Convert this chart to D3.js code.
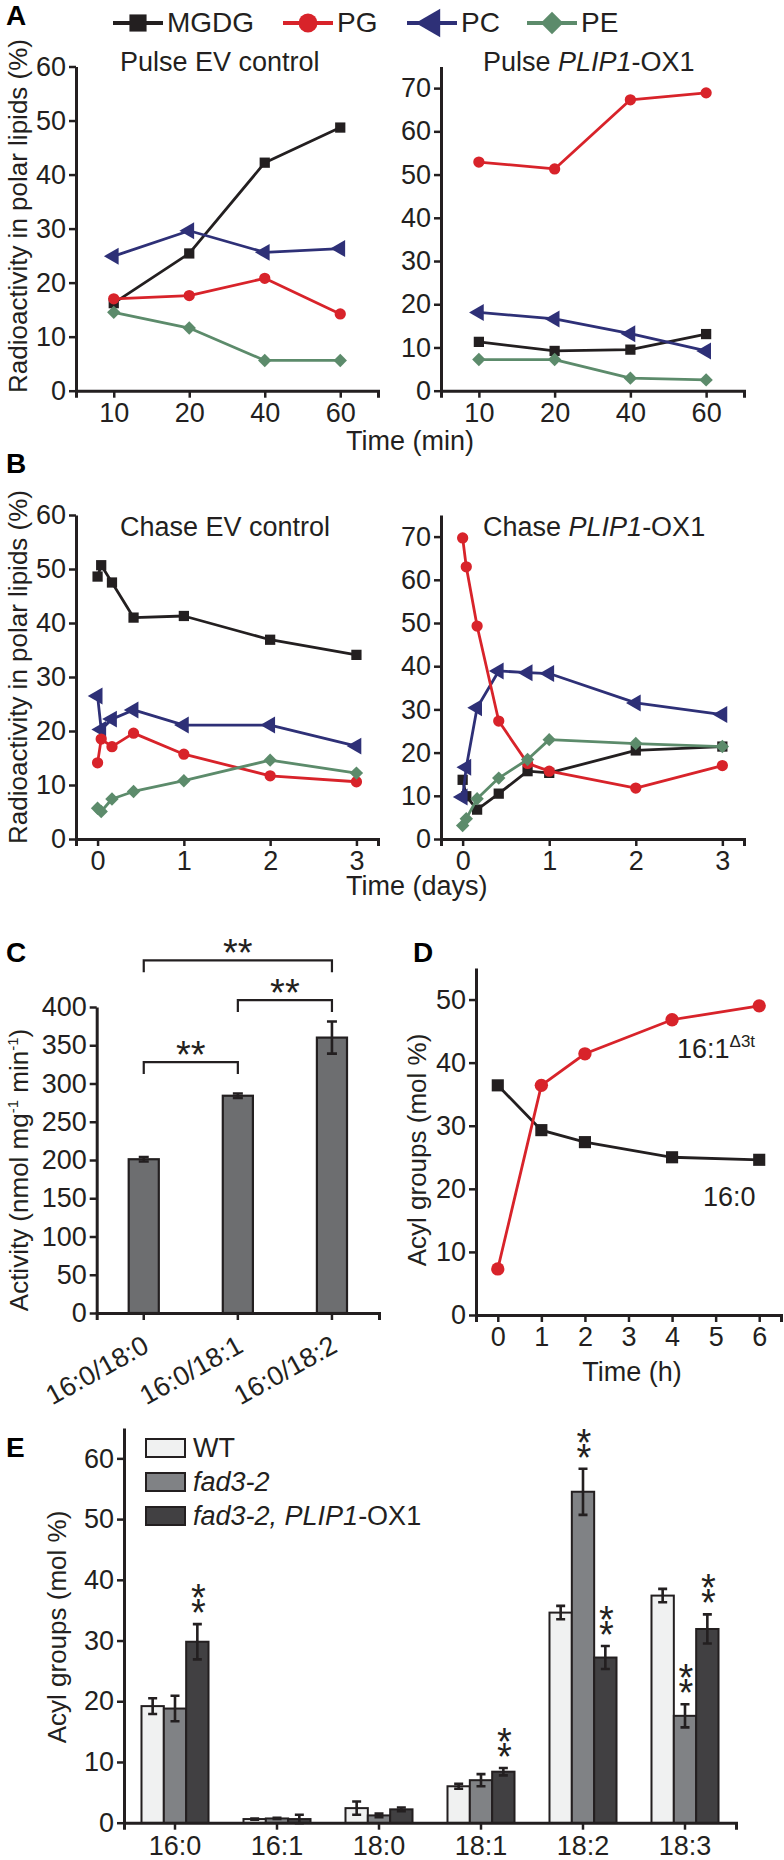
<!DOCTYPE html>
<html>
<head>
<meta charset="utf-8">
<script src="https://cdn.jsdelivr.net/npm/d3@7"></script>
<style>
  body { margin: 0; background: #fff; }
  svg { display: block; font-family: "Liberation Sans", Arial, sans-serif; }
  .axis text { font-family: "Liberation Sans", Arial, sans-serif; font-size: 27px; fill: #231f20; }
  .axis .domain { stroke: #231f20; stroke-width: 3px; }
  .axis .tick line { stroke: #231f20; stroke-width: 2.5px; }
  .lbl { font-size: 27px; fill: #231f20; }
  .ylbl { font-size: 26px; fill: #231f20; }
  .panel { font-size: 28px; font-weight: bold; fill: #000; }
</style>
</head>
<body>
<div id="fig"></div>
<script>
// ---- A / B: radioactivity in polar lipids ----
const lipids = ["MGDG", "PG", "PC", "PE"];
const lipidColors = ["#231f20", "#d8232a", "#2e3077", "#5c8b6b"];

const pulseTimes = ["10", "20", "40", "60"];
const pulseEvMGDG = [16.2, 25.4, 42.2, 48.7];
const pulseEvPG = [17.0, 17.6, 20.8, 14.2];
const pulseEvPC = [24.9, 29.6, 25.6, 26.3];
const pulseEvPE = [14.5, 11.6, 5.6, 5.6];

const pulseOxMGDG = [11.3, 9.2, 9.5, 13.1];
const pulseOxPG = [52.9, 51.3, 67.3, 68.9];
const pulseOxPC = [18.1, 16.6, 13.2, 9.2];
const pulseOxPE = [7.2, 7.2, 2.9, 2.5];

const chaseEvDays = [0, 0.042, 0.167, 0.417, 1, 2, 3];
const chaseEvMGDG = [48.6, 50.7, 47.5, 41.0, 41.3, 36.9, 34.1];
const chaseEvPG = [14.1, 18.5, 17.1, 19.6, 15.7, 11.7, 10.6];
const chaseEvPC = [26.5, 20.3, 22.2, 23.9, 21.1, 21.1, 17.2];
const chaseEvPE = [5.7, 5.1, 7.4, 8.8, 10.8, 14.6, 12.2];

const chaseOxDays = [0, 0.042, 0.167, 0.417, 0.75, 1, 2, 3];
const chaseOxMGDG = [13.7, 9.9, 6.8, 10.5, 15.7, 15.3, 20.5, 21.4];
const chaseOxPG = [69.7, 63.0, 49.3, 27.3, 17.5, 15.7, 11.8, 17.0];
const chaseOxPC = [9.7, 16.6, 30.4, 38.9, 38.5, 38.3, 31.5, 28.8];
const chaseOxPE = [3.1, 4.7, 9.3, 14.1, 18.4, 23.0, 22.1, 21.4];

// ---- C: activity ----
const substrates = ["16:0/18:0", "16:0/18:1", "16:0/18:2"];
const activity = [201, 284, 360];
const activityErr = [3, 3, 21];
const activityBrackets = [[0, 2, 461], [1, 2, 409], [0, 1, 328]]; // from, to, level

// ---- D: time course ----
const hours = [0, 1, 2, 4, 6];
const acyl160 = [36.4, 29.3, 27.4, 25.0, 24.6];
const acyl161t = [7.3, 36.4, 41.4, 46.8, 49.0];

// ---- E: acyl groups ----
const acylGroups = ["16:0", "16:1", "18:0", "18:1", "18:2", "18:3"];
const genotypes = ["WT", "fad3-2", "fad3-2, PLIP1-OX1"];
const genoColors = ["#f0f1f1", "#808285", "#414042"];
const wtMol = [19.2, 0.6, 2.4, 6.0, 34.6, 37.4];
const wtErr = [1.3, 0.1, 1.1, 0.4, 1.1, 1.1];
const fadMol = [18.8, 0.7, 1.2, 7.0, 54.5, 17.6];
const fadErr = [2.1, 0.1, 0.3, 1.0, 3.8, 1.9];
const oxMol = [29.8, 0.6, 2.2, 8.4, 27.2, 31.9];
const oxErr = [2.9, 0.7, 0.3, 0.6, 1.9, 2.4];
const sigMarks = [[0, 2], [3, 2], [4, 1], [4, 2], [5, 1], [5, 2]];

const ink = "#231f20";
const svg = d3.select("#fig").append("svg")
    .attr("width", 784)
    .attr("height", 1860);

svg.append("rect").attr("width", 784).attr("height", 1860).attr("fill", "#fff");

function yAxis(x, scale, ticks) {
    return svg.append("g").attr("class", "axis")
        .attr("transform", `translate(${x},0)`)
        .call(d3.axisLeft(scale).tickValues(ticks).tickSize(7).tickSizeOuter(0).tickPadding(3));
}

function xAxis(y, scale, ticks) {
    const ax = d3.axisBottom(scale).tickSize(7).tickSizeOuter(7).tickPadding(5);
    if (ticks) ax.tickValues(ticks).tickFormat(d3.format("d"));
    return svg.append("g").attr("class", "axis")
        .attr("transform", `translate(0,${y})`)
        .call(ax);
}

// marker shapes per lipid
const shapes = {
    MGDG: { type: d3.symbolSquare, rot: 0, size: 105 },
    PG: { type: d3.symbolCircle, rot: 0, size: 100 },
    PC: { type: d3.symbolTriangle, rot: -90, size: 125 },
    PE: { type: d3.symbolSquare, rot: 45, size: 90 }
};

function drawMarkers(g, pts, shape, color, scale) {
    const sym = d3.symbol().type(shape.type).size(shape.size * (scale || 1));
    g.selectAll(null).data(pts).join("path")
        .attr("d", sym)
        .attr("transform", d => `translate(${d[0]},${d[1]}) rotate(${shape.rot})`)
        .attr("fill", color);
}

function linePanel(x, y, xVals, seriesVals, yTicks, xTicks) {
    yAxis(x.range()[0], y, yTicks);
    xAxis(y.range()[0], x, xTicks);
    const g = svg.append("g");
    // draw order: MGDG, PC, PG, PE
    [0, 2, 1, 3].forEach(k => {
        const pts = xVals.map((t, i) => [x(t), y(seriesVals[k][i])]);
        g.append("path")
            .attr("d", d3.line()(pts))
            .attr("fill", "none")
            .attr("stroke", lipidColors[k])
            .attr("stroke-width", 2.8)
            .attr("stroke-linejoin", "round");
        drawMarkers(g, pts, shapes[lipids[k]], lipidColors[k]);
    });
}

function title(x, y, before, italic, after) {
    const t = svg.append("text").attr("class", "lbl").attr("x", x).attr("y", y);
    t.append("tspan").text(before);
    if (italic) t.append("tspan").attr("font-style", "italic").text(italic);
    if (after) t.append("tspan").text(after);
    return t;
}

function yLabel(x, yc, txt) {
    return svg.append("text").attr("class", "ylbl")
        .attr("text-anchor", "middle")
        .attr("transform", `translate(${x},${yc}) rotate(-90)`)
        .text(txt);
}

function panelLetter(x, y, s) {
    svg.append("text").attr("class", "panel").attr("x", x).attr("y", y).text(s);
}

// ---------- legend ----------
const legendX = [113, 283, 407, 527];
lipids.forEach((name, k) => {
    const lg = svg.append("g");
    lg.append("line")
        .attr("x1", legendX[k]).attr("x2", legendX[k] + 50)
        .attr("y1", 23).attr("y2", 23)
        .attr("stroke", lipidColors[k]).attr("stroke-width", 4);
    drawMarkers(lg, [[legendX[k] + 25, 23]], shapes[name], lipidColors[k], 2.8);
    lg.append("text").attr("class", "lbl")
        .attr("x", legendX[k] + 54).attr("y", 32)
        .style("font-size", "28px")
        .text(name);
});

// ---------- A ----------
panelLetter(6, 25, "A");
const yAL = d3.scaleLinear().domain([0, 60]).range([390.7, 66.5]);
const yAR = d3.scaleLinear().domain([0, 75]).range([390.7, 66.5]);
const xAL = d3.scalePoint().domain(pulseTimes).range([76, 378]).padding(0.5);
const xAR = d3.scalePoint().domain(pulseTimes).range([441, 744]).padding(0.5);

linePanel(xAL, yAL, pulseTimes, [pulseEvMGDG, pulseEvPG, pulseEvPC, pulseEvPE], d3.range(0, 61, 10));
linePanel(xAR, yAR, pulseTimes, [pulseOxMGDG, pulseOxPG, pulseOxPC, pulseOxPE], d3.range(0, 71, 10));
title(120, 71, "Pulse EV control");
title(483, 71, "Pulse ", "PLIP1", "-OX1");
yLabel(27, 216, "Radioactivity in polar lipids (%)");
svg.append("text").attr("class", "lbl").attr("x", 346).attr("y", 450).text("Time (min)");

// ---------- B ----------
panelLetter(6, 473, "B");
const yBL = d3.scaleLinear().domain([0, 60]).range([839, 515]);
const yBR = d3.scaleLinear().domain([0, 75]).range([839, 515]);
const xBL = d3.scaleLinear().domain([-0.25, 3.25]).range([76, 378]);
const xBR = d3.scaleLinear().domain([-0.25, 3.25]).range([441, 744]);

linePanel(xBL, yBL, chaseEvDays, [chaseEvMGDG, chaseEvPG, chaseEvPC, chaseEvPE], d3.range(0, 61, 10), [0, 1, 2, 3]);
linePanel(xBR, yBR, chaseOxDays, [chaseOxMGDG, chaseOxPG, chaseOxPC, chaseOxPE], d3.range(0, 71, 10), [0, 1, 2, 3]);
title(120, 536, "Chase EV control");
title(483, 536, "Chase ", "PLIP1", "-OX1");
yLabel(27, 667, "Radioactivity in polar lipids (%)");
svg.append("text").attr("class", "lbl").attr("x", 346).attr("y", 895).text("Time (days)");

// ---------- C ----------
panelLetter(6, 962, "C");
const yC = d3.scaleLinear().domain([0, 400]).range([1313, 1007]);
const xC = d3.scaleBand().domain(substrates).range([96.7, 379]).paddingInner(0.68).paddingOuter(0.34);

yAxis(96.7, yC, d3.range(0, 401, 50));
const xcAxis = xAxis(1313, xC);
xcAxis.selectAll(".tick text")
    .attr("text-anchor", "end")
    .attr("y", 0).attr("dy", 0)
    .attr("transform", "translate(7,38) rotate(-29)");

const gC = svg.append("g");
substrates.forEach((s, i) => {
    gC.append("rect")
        .attr("x", xC(s)).attr("width", xC.bandwidth())
        .attr("y", yC(activity[i])).attr("height", yC(0) - yC(activity[i]))
        .attr("fill", "#6d6e70").attr("stroke", ink).attr("stroke-width", 2.2);
    const cx = xC(s) + xC.bandwidth() / 2;
    const lo = yC(activity[i] - activityErr[i]), hi = yC(activity[i] + activityErr[i]);
    gC.append("path")
        .attr("d", `M${cx},${lo}V${hi}M${cx - 5},${lo}H${cx + 5}M${cx - 5},${hi}H${cx + 5}`)
        .attr("stroke", ink).attr("stroke-width", 2.6).attr("fill", "none");
});
activityBrackets.forEach(([a, b, lev]) => {
    const xa = xC(substrates[a]) + xC.bandwidth() / 2;
    const xb = xC(substrates[b]) + xC.bandwidth() / 2;
    const yy = yC(lev);
    gC.append("path")
        .attr("d", `M${xa},${yy + 12}V${yy}H${xb}V${yy + 12}`)
        .attr("fill", "none").attr("stroke", ink).attr("stroke-width", 2.2);
    gC.append("text").attr("class", "lbl")
        .attr("x", (xa + xb) / 2).attr("y", yy + 6)
        .attr("text-anchor", "middle")
        .style("font-size", "38px")
        .text("**");
});
const cl = svg.append("text").attr("class", "ylbl")
    .attr("text-anchor", "middle")
    .attr("transform", "translate(28,1170) rotate(-90)");
cl.append("tspan").text("Activity (nmol mg");
cl.append("tspan").attr("dy", -10).style("font-size", "15px").text("-1");
cl.append("tspan").attr("dy", 10).text(" min");
cl.append("tspan").attr("dy", -10).style("font-size", "15px").text("-1");
cl.append("tspan").attr("dy", 10).text(")");

// ---------- D ----------
panelLetter(413, 962, "D");
const yD = d3.scaleLinear().domain([0, 55]).range([1315, 968]);
const xD = d3.scaleLinear().domain([-0.5, 6.5]).range([476, 781]);
yAxis(476, yD, d3.range(0, 51, 10));
xAxis(1315, xD, d3.range(0, 7));
const gD = svg.append("g");
[[acyl160, lipidColors[0], shapes.MGDG], [acyl161t, lipidColors[1], shapes.PG]].forEach(([vals, col, shp]) => {
    const pts = hours.map((h, i) => [xD(h), yD(vals[i])]);
    gD.append("path").attr("d", d3.line()(pts))
        .attr("fill", "none").attr("stroke", col).attr("stroke-width", 2.8);
    drawMarkers(gD, pts, shp, col, 1.4);
});
const l161 = svg.append("text").attr("class", "lbl").attr("x", 677).attr("y", 1058);
l161.append("tspan").text("16:1");
l161.append("tspan").attr("dy", -11).style("font-size", "17px").text("\u03943t");
svg.append("text").attr("class", "lbl").attr("x", 703).attr("y", 1206).text("16:0");
yLabel(426, 1150, "Acyl groups (mol %)");
svg.append("text").attr("class", "lbl").attr("x", 632).attr("y", 1381)
    .attr("text-anchor", "middle").text("Time (h)");

// ---------- E ----------
panelLetter(6, 1457, "E");
const yE = d3.scaleLinear().domain([0, 65]).range([1822.7, 1428]);
const xE = d3.scaleBand().domain(acylGroups).range([124, 736]).paddingInner(0.343).paddingOuter(0.1715);
const xEi = d3.scaleBand().domain(genotypes).range([0, xE.bandwidth()]);
yAxis(124, yE, d3.range(0, 61, 10));
const xeAxis = xAxis(1822.7, xE);
xeAxis.selectAll(".tick text").attr("dy", "0.74em");

const eVals = [wtMol, fadMol, oxMol];
const eErrs = [wtErr, fadErr, oxErr];
const gE = svg.append("g");
acylGroups.forEach((grp, i) => {
    genotypes.forEach((gt, j) => {
        const bx = xE(grp) + xEi(gt);
        const v = eVals[j][i], e = eErrs[j][i];
        gE.append("rect")
            .attr("x", bx).attr("width", xEi.bandwidth())
            .attr("y", yE(v)).attr("height", yE(0) - yE(v))
            .attr("fill", genoColors[j]).attr("stroke", ink).attr("stroke-width", 2);
        const cx = bx + xEi.bandwidth() / 2;
        const lo = yE(v - e), hi = yE(v + e);
        gE.append("path")
            .attr("d", `M${cx},${lo}V${hi}M${cx - 4.5},${lo}H${cx + 4.5}M${cx - 4.5},${hi}H${cx + 4.5}`)
            .attr("stroke", ink).attr("stroke-width", 2.6).attr("fill", "none");
    });
});
// stacked double asterisks, one text element per mark
sigMarks.forEach(([i, j]) => {
    const cx = xE(acylGroups[i]) + xEi(genotypes[j]) + xEi.bandwidth() / 2 + 1;
    const top = yE(eVals[j][i] + eErrs[j][i]);
    const t = gE.append("text").attr("class", "lbl")
        .attr("text-anchor", "middle")
        .style("font-size", "38px");
    t.append("tspan").attr("x", cx).attr("y", top - 13).text("*");
    t.append("tspan").attr("x", cx).attr("dy", 15).text("*");
});
// legend
const legE = svg.append("g");
genotypes.forEach((gt, j) => {
    const top = 1439 + j * 34;
    legE.append("rect")
        .attr("x", 146).attr("y", top).attr("width", 39).attr("height", 18)
        .attr("fill", genoColors[j]).attr("stroke", ink).attr("stroke-width", 2);
    const t = legE.append("text").attr("class", "lbl").attr("x", 193).attr("y", top + 18);
    if (j === 0) t.text(gt);
    else if (j === 1) t.attr("font-style", "italic").text(gt);
    else {
        t.append("tspan").attr("font-style", "italic").text("fad3-2, PLIP1");
        t.append("tspan").text("-OX1");
    }
});
yLabel(66, 1627, "Acyl groups (mol %)");
</script>
</body>
</html>
